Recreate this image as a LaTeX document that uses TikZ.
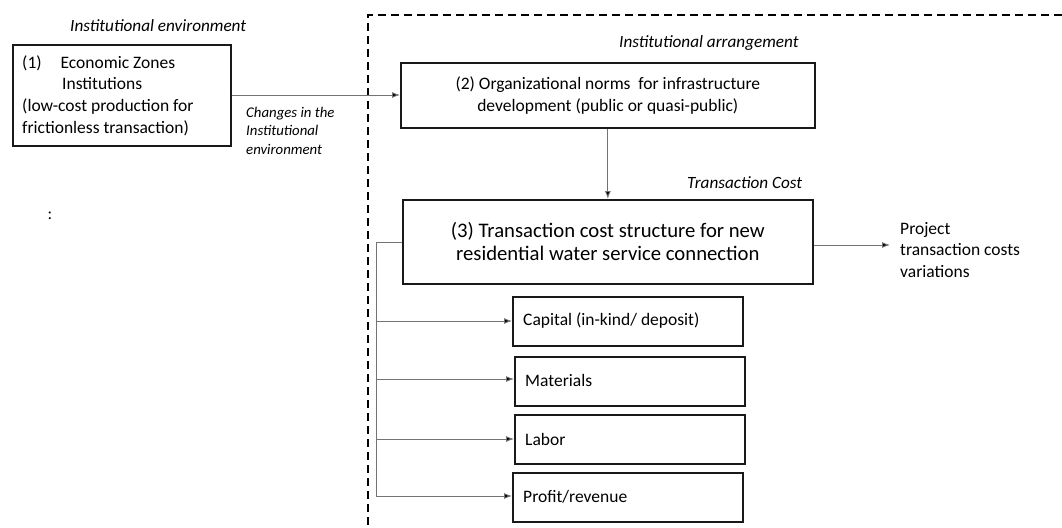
\documentclass[tikz,border=0pt]{standalone}
\usepackage{fontspec}
\setmainfont{Carlito}
\usetikzlibrary{arrows.meta}
\begin{document}
\begin{tikzpicture}[x=1pt,y=-1pt,
  box/.style={draw=black!90, line width=1.7pt, inner sep=0pt, anchor=north west},
  costbox/.style={box, minimum width=230pt, minimum height=49pt},
  link/.style={draw=black!55, line width=0.9pt},
  arrow/.style={link, -{Latex[length=8pt,width=6pt,fill=black]}},
  note/.style={font=\fontsize{17.2}{20}\selectfont\itshape, inner sep=0pt},
  small/.style={font=\fontsize{14.8}{18.5}\selectfont\itshape, inner sep=0pt, align=left, anchor=north west},
  label/.style={anchor=west, inner sep=0pt, font=\fontsize{17.5}{20}\selectfont}]
\useasboundingbox (0,0) rectangle (1062,527);

% boundary of the institutional arrangement
\draw[line width=1.6pt, dash pattern=on 8pt off 5pt] (1062,15) -- (368,15) -- (368,527);

% headings
\node[note, anchor=west] (henv) at (70,26) {Institutional environment};
\node[note, anchor=west] (harr) at (619,43) {Institutional arrangement};
\node[note, anchor=west] (htc) at (687,183) {Transaction Cost};

% (1) institutional environment
\node[box, minimum width=218pt, minimum height=101pt] (env) at (12,44) {};
\node[anchor=north west, inner sep=0pt, align=left,
      font=\fontsize{17.5}{21.7}\selectfont] (envtext) at (22,55)
  {(1)\hspace*{19pt}Economic Zones\\\hspace*{40pt}Institutions\\(low-cost production for\\frictionless transaction)};

% (2) organizational norms
\node[box, minimum width=414pt, minimum height=65pt, align=center,
      font=\fontsize{17.5}{22}\selectfont] (norms) at (400,62)
  {(2) Organizational norms\ \ for infrastructure\\development (public or quasi-public)};

% (3) transaction cost structure
\node[box, minimum width=410pt, minimum height=84pt, align=center,
      font=\fontsize{20.7}{23}\selectfont] (tcs) at (402,199)
  {(3) Transaction cost structure for new\\residential water service connection};

% outcome
\node[anchor=north west, inner sep=0pt, align=left,
      font=\fontsize{17.5}{21.5}\selectfont] (proj) at (900,222)
  {Project\\transaction costs\\variations};

% cost components
\node[costbox] (cap) at (512,296) {};
\node[costbox] (mat) at (514,356) {};
\node[costbox] (lab) at (514,414) {};
\node[costbox] (prof) at (512,472) {};
\node[label] (capt) at (523,321) {Capital (in-kind/ deposit)};
\node[label] (matt) at (525,380) {Materials};
\node[label] (labt) at (525,439) {Labor};
\node[label] (proft) at (523,497) {Profit/revenue};

% changes label
\node[small] (chg) at (246,107) {Changes in the\\Institutional\\environment};

% stray colon
\node[inner sep=0pt, font=\fontsize{17}{18}\selectfont] (colon) at (50,216) {:};

% connectors
\draw[arrow] (env.east |- 0,95) -- (norms.west |- 0,95);
\draw[arrow] (norms.south) -- (tcs.north);
\draw[arrow] (tcs.east |- 0,245) -- (890,245) coordinate (projtip);
\coordinate (trunk) at (376,242);
\draw[link] (tcs.west |- trunk) -- (trunk) -- (376,496);
\draw[arrow] (376,321) -- (cap.west |- 0,321);
\draw[arrow] (376,379) -- (mat.west |- 0,379);
\draw[arrow] (376,439) -- (lab.west |- 0,439);
\draw[arrow] (376,496) -- (prof.west |- 0,496);
\end{tikzpicture}
\end{document}
